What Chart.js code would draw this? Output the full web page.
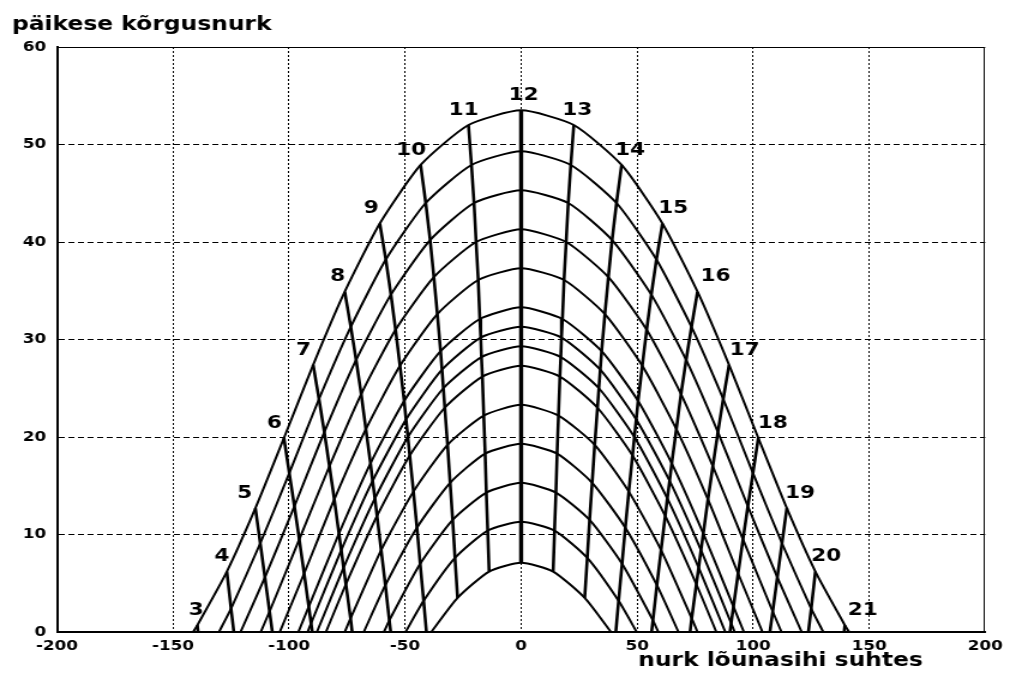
<!DOCTYPE html>
<html>
<head>
<meta charset="utf-8">
<title>päikese kõrgusnurk</title>
<script src="https://cdn.jsdelivr.net/npm/chart.js@4.4.0/dist/chart.umd.min.js"></script>
<style>
  html, body { margin: 0; padding: 0; background: #fff; overflow: hidden; }
  /* the drawing is made 842 wide and stretched out to the full 1010 */
  #wrap { width: 842px; height: 681px; transform: scaleX(1.1995); transform-origin: 0 0; }
</style>
</head>
<body>
<div id="wrap"><canvas id="sunChart" width="842" height="681"></canvas></div>
<script>
// solar hours, one column each in the tables below
const hours = [3, 4, 5, 6, 7, 8, 9, 10, 11, 12, 13, 14, 15, 16, 17, 18, 19, 20, 21];
const hourLabels = ['3', '4', '5', '6', '7', '8', '9', '10', '11', '12', '13', '14', '15', '16', '17', '18', '19', '20', '21'];
const xTickValues = [-200, -150, -100, -50, 0, 50, 100, 150, 200];
const yTickValues = [0, 10, 20, 30, 40, 50, 60];

// azimuth from south (deg) of the sun at each hour, one row per day (null = below horizon)
const azimuth = [
  [-139.5, -126.8, -114.5, -102.2, -89.6, -76.0, -60.9, -43.3, -22.7, 0, 22.7, 43.3, 60.9, 76.0, 89.6, 102.2, 114.5, 126.8, 139.5],
  [null, -125.0, -112.4, -99.9, -87.1, -73.4, -58.3, -41.1, -21.4, 0, 21.4, 41.1, 58.3, 73.4, 87.1, 99.9, 112.4, 125.0, null],
  [null, null, -110.4, -97.7, -84.8, -71.1, -56.1, -39.2, -20.3, 0, 20.3, 39.2, 56.1, 71.1, 84.8, 97.7, 110.4, null, null],
  [null, null, -108.4, -95.6, -82.6, -68.9, -54.1, -37.6, -19.4, 0, 19.4, 37.6, 54.1, 68.9, 82.6, 95.6, 108.4, null, null],
  [null, null, null, -93.5, -80.5, -66.9, -52.2, -36.1, -18.5, 0, 18.5, 36.1, 52.2, 66.9, 80.5, 93.5, null, null, null],
  [null, null, null, -91.5, -78.5, -64.9, -50.4, -34.7, -17.8, 0, 17.8, 34.7, 50.4, 64.9, 78.5, 91.5, null, null, null],
  [null, null, null, -90.5, -77.5, -64.0, -49.6, -34.1, -17.4, 0, 17.4, 34.1, 49.6, 64.0, 77.5, 90.5, null, null, null],
  [null, null, null, null, -76.5, -63.0, -48.8, -33.5, -17.1, 0, 17.1, 33.5, 48.8, 63.0, 76.5, null, null, null, null],
  [null, null, null, null, -75.5, -62.1, -48.0, -32.9, -16.7, 0, 16.7, 32.9, 48.0, 62.1, 75.5, null, null, null, null],
  [null, null, null, null, -73.5, -60.3, -46.4, -31.7, -16.1, 0, 16.1, 31.7, 46.4, 60.3, 73.5, null, null, null, null],
  [null, null, null, null, null, -58.5, -44.9, -30.6, -15.5, 0, 15.5, 30.6, 44.9, 58.5, null, null, null, null, null],
  [null, null, null, null, null, -56.8, -43.5, -29.5, -15.0, 0, 15.0, 29.5, 43.5, 56.8, null, null, null, null, null],
  [null, null, null, null, null, null, -42.0, -28.5, -14.4, 0, 14.4, 28.5, 42.0, null, null, null, null, null, null],
  [null, null, null, null, null, null, null, -27.4, -13.8, 0, 13.8, 27.4, null, null, null, null, null, null, null]
];

// altitude (deg) at the same hours
const altitude = [
  [0.7, 6.2, 12.7, 19.9, 27.4, 34.9, 41.9, 47.9, 52.0, 53.5, 52.0, 47.9, 41.9, 34.9, 27.4, 19.9, 12.7, 6.2, 0.7],
  [null, 2.4, 9.1, 16.3, 23.9, 31.3, 38.2, 44.0, 47.9, 49.3, 47.9, 44.0, 38.2, 31.3, 23.9, 16.3, 9.1, 2.4, null],
  [null, null, 5.6, 12.9, 20.5, 27.9, 34.6, 40.2, 44.0, 45.3, 44.0, 40.2, 34.6, 27.9, 20.5, 12.9, 5.6, null, null],
  [null, null, 2.1, 9.5, 17.0, 24.4, 31.0, 36.4, 40.0, 41.3, 40.0, 36.4, 31.0, 24.4, 17.0, 9.5, 2.1, null, null],
  [null, null, null, 6.0, 13.6, 20.8, 27.3, 32.6, 36.1, 37.3, 36.1, 32.6, 27.3, 20.8, 13.6, 6.0, null, null, null],
  [null, null, null, 2.6, 10.1, 17.3, 23.7, 28.8, 32.1, 33.3, 32.1, 28.8, 23.7, 17.3, 10.1, 2.6, null, null, null],
  [null, null, null, 0.9, 8.4, 15.5, 21.8, 26.9, 30.2, 31.3, 30.2, 26.9, 21.8, 15.5, 8.4, 0.9, null, null, null],
  [null, null, null, null, 6.6, 13.7, 20.0, 25.0, 28.2, 29.3, 28.2, 25.0, 20.0, 13.7, 6.6, null, null, null, null],
  [null, null, null, null, 4.9, 11.9, 18.1, 23.0, 26.2, 27.3, 26.2, 23.0, 18.1, 11.9, 4.9, null, null, null, null],
  [null, null, null, null, 1.4, 8.4, 14.4, 19.2, 22.2, 23.3, 22.2, 19.2, 14.4, 8.4, 1.4, null, null, null, null],
  [null, null, null, null, null, 4.8, 10.7, 15.3, 18.3, 19.3, 18.3, 15.3, 10.7, 4.8, null, null, null, null, null],
  [null, null, null, null, null, 1.2, 7.0, 11.5, 14.3, 15.3, 14.3, 11.5, 7.0, 1.2, null, null, null, null, null],
  [null, null, null, null, null, null, 3.2, 7.6, 10.4, 11.3, 10.4, 7.6, 3.2, null, null, null, null, null, null],
  [null, null, null, null, null, null, null, 3.5, 6.2, 7.1, 6.2, 3.5, null, null, null, null, null, null, null]
];

// where each day path meets the horizon
const sunriseAz = [-141.3, -130.2, -120.9, -112.2, -104.0, -96.0, -92.0, -88.0, -84.1, -76.0, -67.8, -59.1, -49.8, -38.7];
const sunsetAz = [141.3, 130.2, 120.9, 112.2, 104.0, 96.0, 92.0, 88.0, 84.1, 76.0, 67.8, 59.1, 49.8, 38.7];

// where each hour line meets the horizon (null = it stops on the lowest path)
const hourHorizonAz = [-139.2, -123.8, -107.2, -90.0, -72.8, -56.2, -40.8, null, null, null, null, null, 40.8, 56.2, 72.8, 90.0, 107.2, 123.8, 139.2];

const datasets = [];

// day paths
azimuth.forEach(function(row, i) {
  let pts = [{ x: sunriseAz[i], y: 0 }];
  row.forEach(function(az, j) {
    if (az !== null) pts.push({ x: az, y: altitude[i][j] });
  });
  pts.push({ x: sunsetAz[i], y: 0 });
  datasets.push({ data: pts, borderWidth: 2, tension: 0.2 });
});

// hour lines, from the highest path downwards
hours.forEach(function(h, j) {
  let pts = [];
  azimuth.forEach(function(row, i) {
    if (row[j] !== null) pts.push({ x: row[j], y: altitude[i][j] });
  });
  if (hourHorizonAz[j] !== null) pts.push({ x: hourHorizonAz[j], y: 0 });
  datasets.push({ data: pts, borderWidth: h === 12 ? 3.4 : 2.6, tension: 0 });
});

datasets.forEach(function(ds) {
  ds.showLine = true;
  ds.pointRadius = 0;
  ds.borderColor = '#000';
  ds.fill = false;
});

// hour numbers sit just above the top path, nudged sideways (px)
const labelShift = [-1, -4, -9, -8, -8, -6, -7, -8, -4, 2, 3, 7, 9, 15, 13, 12, 11, 9, 15];

const hourLabelPlugin = {
  id: 'hourLabels',
  afterDatasetsDraw(chart) {
    const ctx = chart.ctx;
    const xs = chart.scales.x;
    const ys = chart.scales.y;
    ctx.save();
    ctx.font = 'bold 18px "DejaVu Sans"';
    ctx.fillStyle = '#000';
    ctx.textAlign = 'center';
    ctx.textBaseline = 'middle';
    hours.forEach(function(h, j) {
      ctx.fillText(hourLabels[j], xs.getPixelForValue(azimuth[0][j]) + labelShift[j], ys.getPixelForValue(altitude[0][j]) - 15);
    });
    ctx.restore();
  }
};

// thin top and right frame lines plus the two axis titles
const framePlugin = {
  id: 'frame',
  beforeDatasetsDraw(chart) {
    const ctx = chart.ctx;
    const a = chart.chartArea;
    ctx.save();
    ctx.strokeStyle = '#000';
    ctx.lineWidth = 1;
    ctx.beginPath();
    ctx.moveTo(a.left, Math.round(a.top) + 0.5);
    ctx.lineTo(a.right, Math.round(a.top) + 0.5);
    ctx.moveTo(Math.round(a.right) - 0.5, a.top);
    ctx.lineTo(Math.round(a.right) - 0.5, a.bottom);
    ctx.stroke();
    ctx.restore();
  },
  afterDraw(chart) {
    const ctx = chart.ctx;
    ctx.save();
    ctx.font = 'bold 19.5px "DejaVu Sans"';
    ctx.fillStyle = '#000';
    ctx.textAlign = 'left';
    ctx.textBaseline = 'alphabetic';
    ctx.fillText('päikese kõrgusnurk', 10, 30);
    ctx.fillText('nurk lõunasihi suhtes', 532, 666);
    ctx.restore();
  }
};

// tick numbers
Chart.defaults.font.family = '"DejaVu Sans"';
Chart.defaults.font.size = 14;
Chart.defaults.font.weight = 'bold';
Chart.defaults.color = '#000';

new Chart(document.getElementById('sunChart'), {
  type: 'scatter',
  data: { datasets: datasets },
  options: {
    animation: false,
    responsive: false,
    events: [],
    layout: { padding: { left: 0, top: 47, right: 17, bottom: 0 } },
    plugins: {
      legend: { display: false },
      tooltip: { enabled: false }
    },
    scales: {
      x: {
        type: 'linear',
        min: -200,
        max: 200,
        afterBuildTicks: function(scale) { scale.ticks = xTickValues.map(v => ({ value: v })); },
        afterFit: function(scale) { scale.height = 49; },
        ticks: { color: '#000', padding: 6, maxRotation: 0 },
        grid: {
          drawTicks: false,
          lineWidth: 1,
          color: c => (c.tick && Math.abs(c.tick.value) === 200) ? 'rgba(0,0,0,0)' : '#000'
        },
        border: { display: true, color: '#000', width: 2, dash: [2, 2] }
      },
      y: {
        type: 'linear',
        min: 0,
        max: 60,
        afterBuildTicks: function(scale) { scale.ticks = yTickValues.map(v => ({ value: v })); },
        afterFit: function(scale) { scale.width = 47.5; },
        ticks: { color: '#000', padding: 9 },
        grid: {
          drawTicks: false,
          lineWidth: 1,
          color: c => (c.tick && (c.tick.value === 0 || c.tick.value === 60)) ? 'rgba(0,0,0,0)' : '#000'
        },
        border: { display: true, color: '#000', width: 2, dash: [5, 3] }
      }
    }
  },
  plugins: [framePlugin, hourLabelPlugin]
});
</script>
</body>
</html>
